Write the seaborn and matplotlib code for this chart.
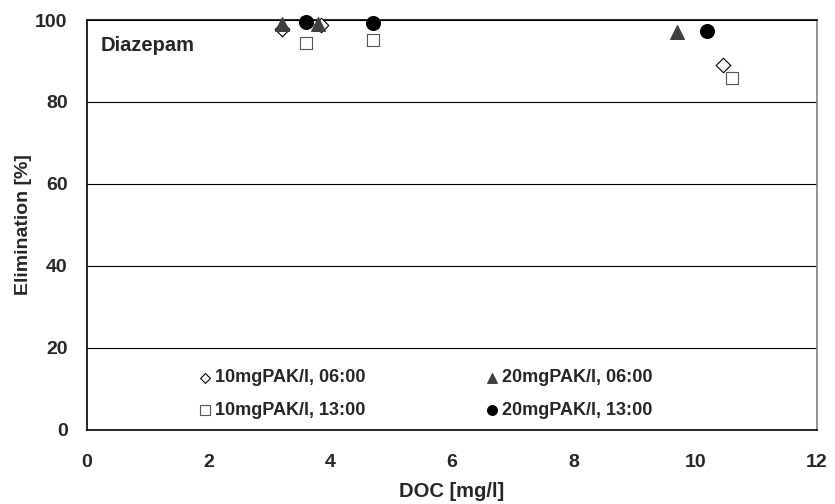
import numpy as np
import pandas as pd
import seaborn as sns
import matplotlib.pyplot as plt

# values
doc_10_06 = [3.2, 3.85, 10.45]
elim_10_06 = [97.8, 98.8, 89.0]
doc_20_06 = [3.2, 3.8, 9.7]
elim_20_06 = [99.0, 99.0, 97.1]
doc_10_13 = [3.6, 4.7, 10.6]
elim_10_13 = [94.4, 95.1, 85.9]
doc_20_13 = [3.6, 4.7, 10.2]
elim_20_13 = [99.5, 99.3, 97.3]

series_labels = ['10mgPAK/l, 06:00', '20mgPAK/l, 06:00', '10mgPAK/l, 13:00', '20mgPAK/l, 13:00']
x_ticks = [0, 2, 4, 6, 8, 10, 12]
y_ticks = [0, 20, 40, 60, 80, 100]

sns.set_style('white')
plt.rcParams['font.family'] = ['Liberation Sans', 'DejaVu Sans']
plt.rcParams['font.weight'] = 'bold'

fig = plt.figure(figsize=(8.35, 5.04), dpi=100)
ax = fig.add_axes([87 / 835, 74 / 504, 730 / 835, 410 / 504])

# marker, face, edge, size in plot, size in legend
styles = [
    (doc_10_06, elim_10_06, 'D', 'white', 'black', 55, 25),
    (doc_20_06, elim_20_06, '^', '#404040', '#404040', 100, 50),
    (doc_10_13, elim_10_13, 's', 'white', '#555555', 72, 48),
    (doc_20_13, elim_20_13, 'o', 'black', 'black', 100, 50),
]
for (xs, ys, m, fc, ec, s, _), lab in zip(styles, series_labels):
    sns.scatterplot(x=xs, y=ys, marker=m, s=s, color=fc, edgecolor=ec,
                    linewidth=0.8, label=lab, ax=ax, zorder=3, clip_on=False)

ax.set_xlim(0, 12)
ax.set_ylim(0, 100)
ax.set_xticks(x_ticks)
ax.set_yticks(y_ticks)
ax.set_xticklabels([str(v) for v in x_ticks], fontsize=14, fontweight='bold')
ax.set_yticklabels([str(v) for v in y_ticks], fontsize=14, fontweight='bold')
ax.tick_params(axis='both', direction='out', length=6, width=1, color='black')
ax.tick_params(axis='x', pad=11)
ax.tick_params(axis='y', pad=8)
ax.yaxis.grid(True, color='black', linewidth=0.8)
ax.xaxis.grid(False)
ax.set_axisbelow(True)

for side in ['left', 'bottom', 'top']:
    ax.spines[side].set_color('black')
    ax.spines[side].set_linewidth(1.2)
ax.spines['right'].set_color('#808080')
ax.spines['right'].set_linewidth(1.2)

ax.set_xlabel('DOC [mg/l]', fontsize=14.5, fontweight='bold', labelpad=8)
ax.set_ylabel('Elimination [%]', fontsize=14, fontweight='bold', labelpad=2)

ax.text(0.018, 0.939, 'Diazepam', transform=ax.transAxes, fontsize=14.5,
        fontweight='bold', va='center', ha='left')

handles, labels = ax.get_legend_handles_labels()
order = [0, 2, 1, 3]
leg = ax.legend([handles[i] for i in order], [labels[i] for i in order], ncol=2,
                frameon=False, loc='center', bbox_to_anchor=(0.463, 0.088),
                handlelength=0.8, handletextpad=0.15, columnspacing=6.6,
                labelspacing=0.85, prop={'weight': 'bold', 'size': 13})
for h, i in zip(leg.legend_handles, order):
    h.set_sizes([styles[i][6]])

fig.savefig('out.png', dpi=100)
